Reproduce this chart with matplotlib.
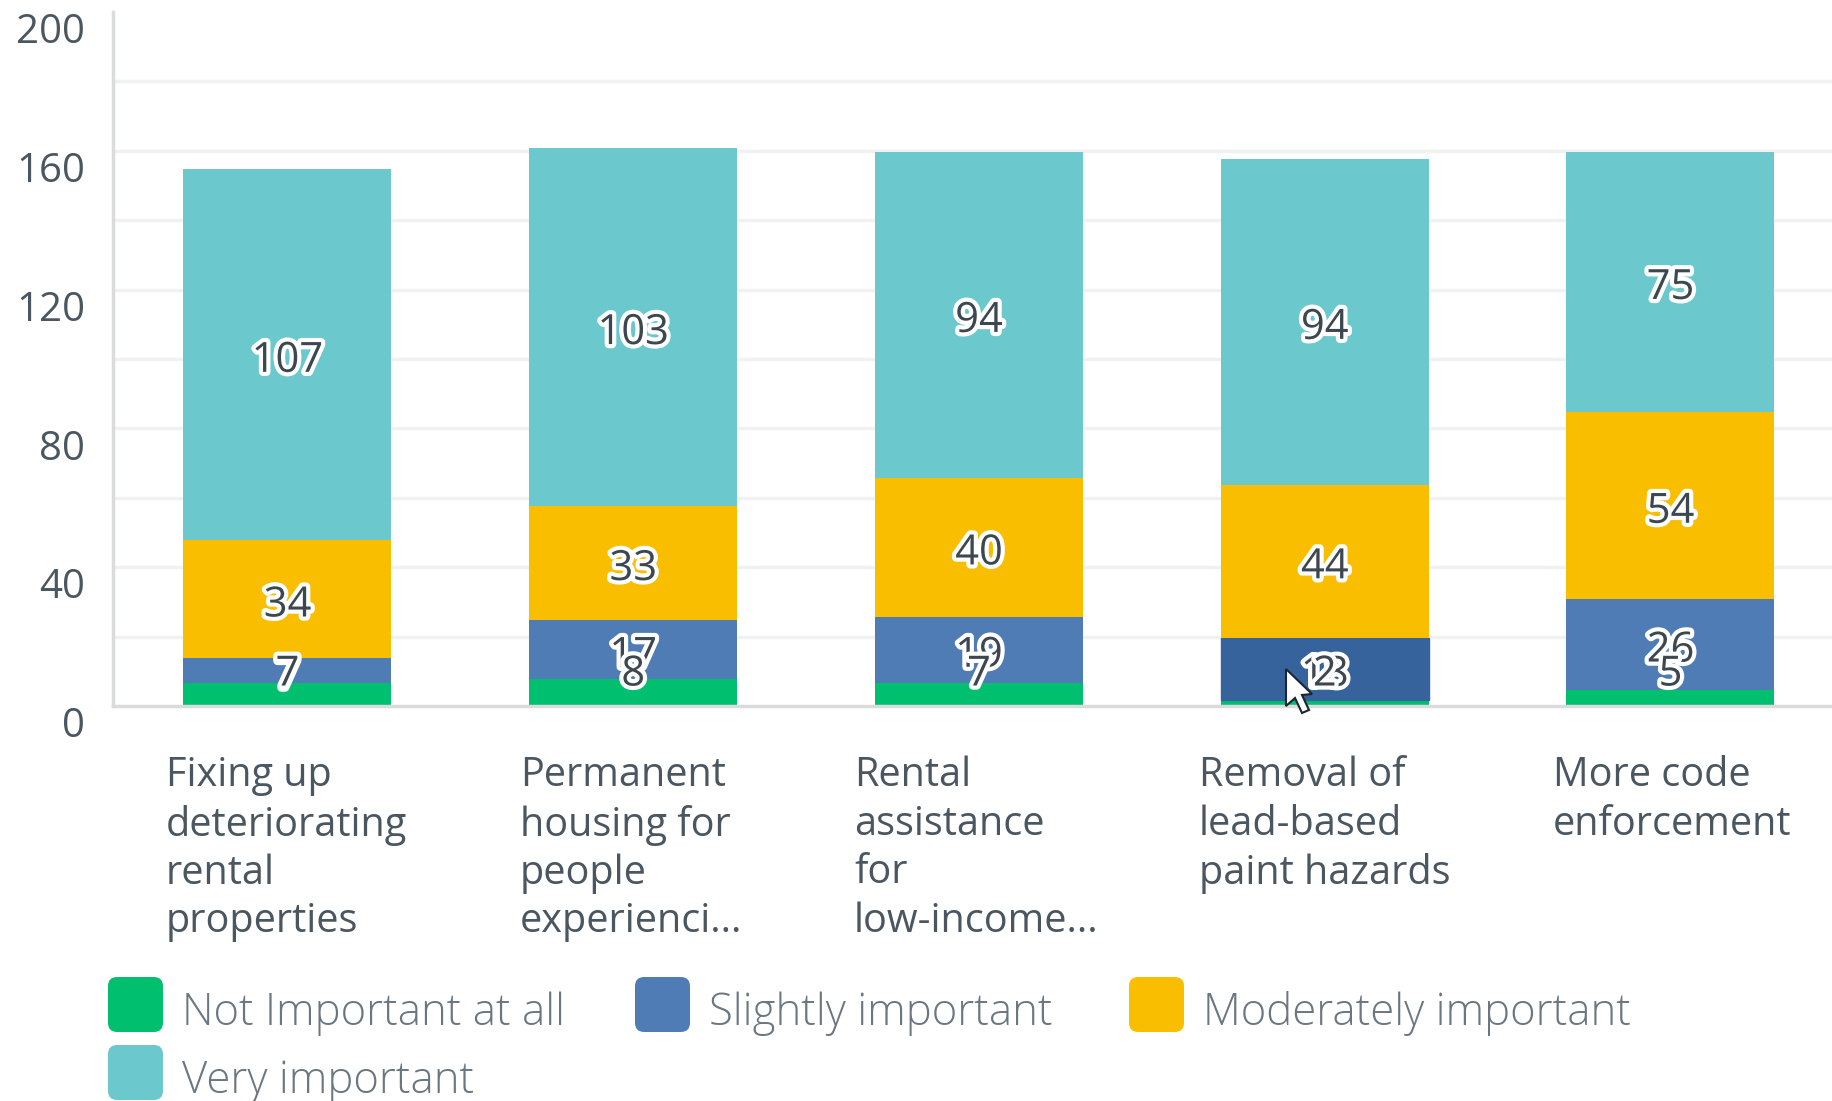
import matplotlib
matplotlib.use("Agg")
import matplotlib.pyplot as plt
import matplotlib.patheffects as pe
from matplotlib.patches import FancyBboxPatch, Polygon

W, H = 1833, 1101
categories = ["Fixing up\ndeteriorating\nrental\nproperties",
              "Permanent\nhousing for\npeople\nexperienci...",
              "Rental\nassistance\nfor\nlow-income...",
              "Removal of\nlead-based\npaint hazards",
              "More code\nenforcement"]
not_important = [7, 8, 7, 2, 5]
slightly = [7, 17, 19, 18, 26]
moderately = [34, 33, 40, 44, 54]
very = [107, 103, 94, 94, 75]
series_names = ["Not Important at all", "Slightly important", "Moderately important", "Very important"]
colors = ["#00bf6f", "#507cb6", "#f9be00", "#6bc8cd"]
hover_blue = "#36639c"
yticks = [0, 40, 80, 120, 160, 200]
ygrid = [20, 40, 60, 80, 100, 120, 140, 160, 180]

plt.rcParams['font.family'] = ['Open Sans', 'DejaVu Sans']
fig = plt.figure(figsize=(W/100, H/100), dpi=100, facecolor="white")
# axes: left x=113, right beyond the figure edge, baseline y=706, y=200 at y=12
ax = fig.add_axes([113/W, 1-706/H, (W-113)/W, (706-12)/H])
ax.set_ylim(0, 200)
px = 345.75  # pixels per category
ax.set_xlim((113-287.5)/px, (W-287.5)/px)
x = list(range(len(categories)))
bw = 208/px

ax.set_axisbelow(True)
ax.set_yticks(ygrid)
ax.grid(True, axis="y", color="#f0f1f1", lw=2.5)
ax.tick_params(axis="y", which="both", length=0)
ax.set_yticklabels([])
for t in yticks:
    ax.annotate(str(t), (0, t), xycoords=("axes fraction", "data"), xytext=(-28, -21),
                textcoords="offset pixels", ha="right", va="center", fontsize=29, color="#4a5660",
                annotation_clip=False)
for s in ["top", "right"]:
    ax.spines[s].set_visible(False)
for s in ["left", "bottom"]:
    ax.spines[s].set_color("#d9dbdc")
    ax.spines[s].set_linewidth(2.5)
    ax.spines[s].set_zorder(4)
ax.set_xticks(x)
ax.set_xticklabels([])
ax.tick_params(axis="x", length=0)

# the stacks start slightly under the axis line in the reference
baseline = -0.3
bottom = [baseline]*5
for k, (vals, c, name) in enumerate(zip([not_important, slightly, moderately, very], colors, series_names)):
    bars = ax.bar(x, vals, bw, bottom=bottom, color=c, label=name, zorder=3)
    if name == "Slightly important":
        bars[3].set_color(hover_blue)
    for i, v in enumerate(vals):
        yc = bottom[i] + v/2
        if name == "Not Important at all":
            yc = 10.8
        # the first series' labels lie on top of the second's
        ax.annotate(str(v), (i, yc), xytext=(0, -6), textcoords="offset pixels",
                    ha="center", va="center", fontsize=30, color="#3c4750",
                    zorder=7 if k == 0 else 5, fontweight="medium",
                    path_effects=[pe.withStroke(linewidth=6, foreground="white")])
    bottom = [b+v for b, v in zip(bottom, vals)]

# category labels, left aligned at reference positions
lab_left = [166, 520, 854, 1199, 1553]
for l, cat in zip(lab_left, categories):
    fig.text(l/W, 1-756/H, cat, ha="left", va="top", fontsize=28.5, color="#4a5660", linespacing=1.26,
             fontweight="medium")

# legend
leg = [(108, 987, 0), (635, 987, 1), (1129, 987, 2), (108, 1055, 3)]
for (lx, ly, i) in leg:
    fig.add_artist(FancyBboxPatch((lx/W, 1-(ly+45)/H), 55/W, 55/H, boxstyle="round,pad=0,rounding_size=0.005",
                                  transform=fig.transFigure, fc=colors[i], ec="none", mutation_aspect=W/H))
    fig.text((lx+74)/W, 1-(ly+27)/H, series_names[i], ha="left", va="center", fontsize=31.5,
             color="#6b7780", fontweight="light")

# mouse pointer visible in the screenshot
cursor = [(1286, 669), (1286, 706), (1295, 698), (1302, 713), (1309, 710), (1302, 695), (1312, 694)]
fig.add_artist(Polygon([(a/W, 1-b/H) for a, b in cursor], closed=True, transform=fig.transFigure,
                       fc="white", ec="#1c2530", lw=1.5, zorder=10))

fig.savefig("out.png", dpi=100)
